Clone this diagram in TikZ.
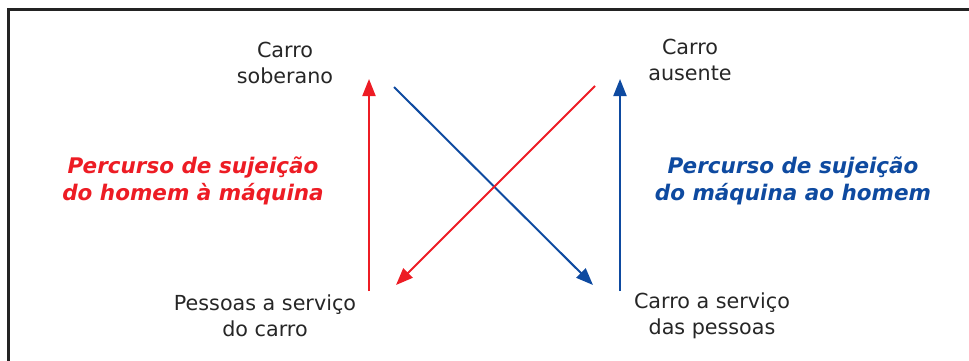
\documentclass[tikz,border=0pt]{standalone}
\usepackage{fontspec}
\setmainfont{DejaVu Sans}
\usetikzlibrary{arrows.meta}
\definecolor{framegray}{RGB}{35,35,35}
\definecolor{pathred}{RGB}{237,28,36}
\definecolor{pathblue}{RGB}{14,74,160}
\tikzset{
  label/.style={align=center, font=\fontsize{20.7}{25.5}\selectfont, text=black!85, inner sep=0pt},
  route/.style={align=center, font=\fontsize{21.5}{26.5}\selectfont\bfseries\itshape, inner sep=0pt},
  arrowline/.style={line width=2pt, -{Triangle[length=17pt,width=13pt]}},
}
\begin{document}
\begin{tikzpicture}[x=1pt,y=-1pt]
  \useasboundingbox (0,0) rectangle (969,360);
  % open frame: top and left edges only
  \draw[framegray, line width=3pt] (8,372) -- (8,9) -- (975,9);

  % state labels
  \node[label] (soberano) at (285,63) {Carro\\soberano};
  \node[label] (ausente)  at (690,60) {Carro\\ausente};
  \node[label] (pessoas)  at (265,316) {Pessoas a serviço\\do carro};
  \node[label] (servico)  at (712,316) {Carro a serviço\\das pessoas};

  % route captions
  \node[route, text=pathred]  (rotared)  at (193,181) {Percurso de sujeição\\do homem à máquina};
  \node[route, text=pathblue] (rotablue) at (793,181) {Percurso de sujeição\\do máquina ao homem};

  % arrow end points
  \coordinate (r1s) at (369,291);
  \coordinate (r1e) at (369,79);
  \coordinate (b1s) at (394,87);
  \coordinate (b1e) at (593,285);
  \coordinate (r2s) at (595,86);
  \coordinate (r2e) at (396,285);
  \coordinate (b2s) at (620,291);
  \coordinate (b2e) at (620,79);

  \draw[arrowline, pathred]  (r1s) -- (r1e);
  \draw[arrowline, pathblue] (b1s) -- (b1e);
  \draw[arrowline, pathred]  (r2s) -- (r2e);
  \draw[arrowline, pathblue] (b2s) -- (b2e);
\end{tikzpicture}
\end{document}
